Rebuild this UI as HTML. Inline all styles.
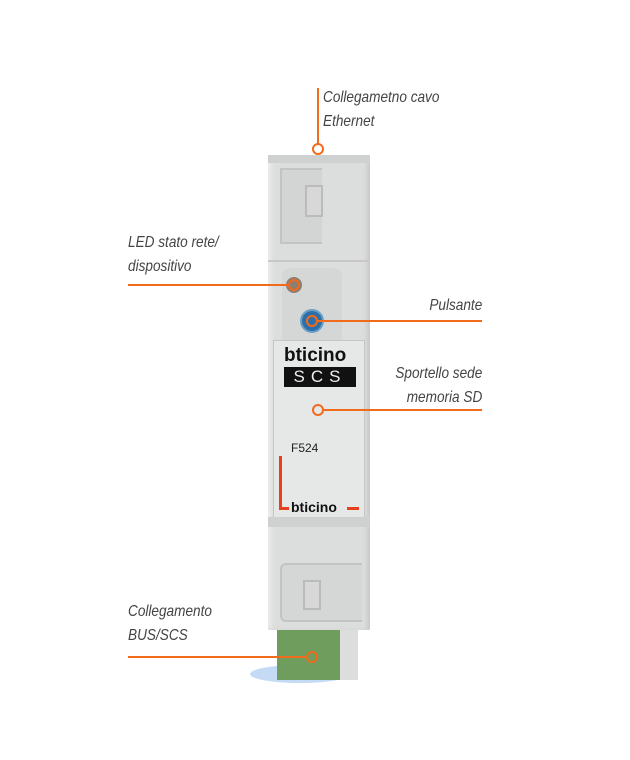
<!DOCTYPE html>
<html><head><meta charset="utf-8"><style>
body{margin:0;width:630px;height:760px;background:#fff;position:relative;overflow:hidden;font-family:"Liberation Sans",sans-serif}
.a{position:absolute}
.t{position:absolute;font-style:italic;font-size:16px;color:#444;line-height:24px;white-space:nowrap;transform:scaleX(.85)}
.l{position:absolute;background:#f26a1b;height:2px}
.c{position:absolute;width:8px;height:8px;border:2px solid #f26a1b;border-radius:50%;background:transparent}
</style></head><body>
<div class="a" style="left:268px;top:155px;width:102px;height:475px;background:#dcdddd;border-radius:2px;box-shadow:inset -3px 0 4px #c8c9c9,inset 3px 0 4px #eee"></div>
<div class="a" style="left:268px;top:155px;width:102px;height:8px;background:#cfd0d0"></div>
<div class="a" style="left:280px;top:168px;width:40px;height:72px;border:2px solid #c2c3c3;border-right:none;background:#d3d4d4"></div>
<div class="a" style="left:305px;top:185px;width:14px;height:28px;border:2px solid #bbb;background:#d8d8d8"></div>
<div class="a" style="left:268px;top:260px;width:102px;height:2px;background:#c8c8c8"></div>
<div class="a" style="left:282px;top:268px;width:60px;height:76px;background:#d5d6d6;border-radius:8px"></div>
<div class="a" style="left:286px;top:277px;width:16px;height:16px;border-radius:50%;background:#8b7f72"></div>
<div class="a" style="left:302px;top:311px;width:20px;height:20px;border-radius:50%;background:#2d6fa8;box-shadow:0 0 0 2px #6aa0c8"></div>
<div class="a" style="left:273px;top:340px;width:90px;height:176px;background:#e6e7e7;border:1px solid #c6c6c6"></div>
<div class="a" style="left:284px;top:346px;width:72px;height:20px;font:900 19px 'Liberation Sans',sans-serif;color:#111;line-height:20px">bticino</div>
<div class="a" style="left:284px;top:367px;width:72px;height:20px;background:#111;color:#eee;font:17px 'Liberation Sans',sans-serif;text-align:center;line-height:20px;letter-spacing:6px">SCS</div>
<div class="a" style="left:291px;top:441px;font:12px 'Liberation Sans',sans-serif;color:#222">F524</div>
<div class="a" style="left:279px;top:456px;width:3px;height:53px;background:#e8401c"></div>
<div class="a" style="left:279px;top:507px;width:10px;height:3px;background:#e8401c"></div>
<div class="a" style="left:291px;top:499px;font:bold 14px 'Liberation Sans',sans-serif;color:#111">bticino</div>
<div class="a" style="left:347px;top:507px;width:12px;height:3px;background:#e8401c"></div>
<div class="a" style="left:268px;top:517px;width:102px;height:10px;background:#cfd0d0"></div>
<div class="a" style="left:280px;top:563px;width:80px;height:55px;border:2px solid #c2c3c3;border-right:none;background:#d5d6d6;border-radius:6px 0 0 6px"></div>
<div class="a" style="left:303px;top:580px;width:14px;height:26px;border:2px solid #bbb;background:#d8d8d8"></div>
<div class="a" style="left:250px;top:665px;width:100px;height:18px;border-radius:50%;background:#9fc3ef;opacity:.6"></div>
<div class="a" style="left:277px;top:630px;width:63px;height:50px;background:#6f9d5e"></div>
<div class="a" style="left:340px;top:630px;width:18px;height:50px;background:#dcdddd"></div>
<div class="t" style="left:323px;top:86px;transform-origin:left">Collegametno cavo<br>Ethernet</div>
<div class="a" style="left:317px;top:88px;width:2px;height:56px;background:#f26a1b"></div>
<div class="c" style="left:312px;top:143px"></div>
<div class="t" style="left:128px;top:231px;transform-origin:left">LED stato rete/<br>dispositivo</div>
<div class="l" style="left:128px;top:284px;width:160px"></div>
<div class="c" style="left:288px;top:279px"></div>
<div class="t" style="right:148px;top:294px;transform-origin:right;text-align:right">Pulsante</div>
<div class="c" style="left:306px;top:315px"></div>
<div class="l" style="left:318px;top:320px;width:164px"></div>
<div class="t" style="right:148px;top:362px;transform-origin:right;text-align:right">Sportello sede<br>memoria SD</div>
<div class="c" style="left:312px;top:404px"></div>
<div class="l" style="left:324px;top:409px;width:158px"></div>
<div class="t" style="left:128px;top:600px;transform-origin:left">Collegamento<br>BUS/SCS</div>
<div class="l" style="left:128px;top:656px;width:178px"></div>
<div class="c" style="left:306px;top:651px"></div>
</body></html>
